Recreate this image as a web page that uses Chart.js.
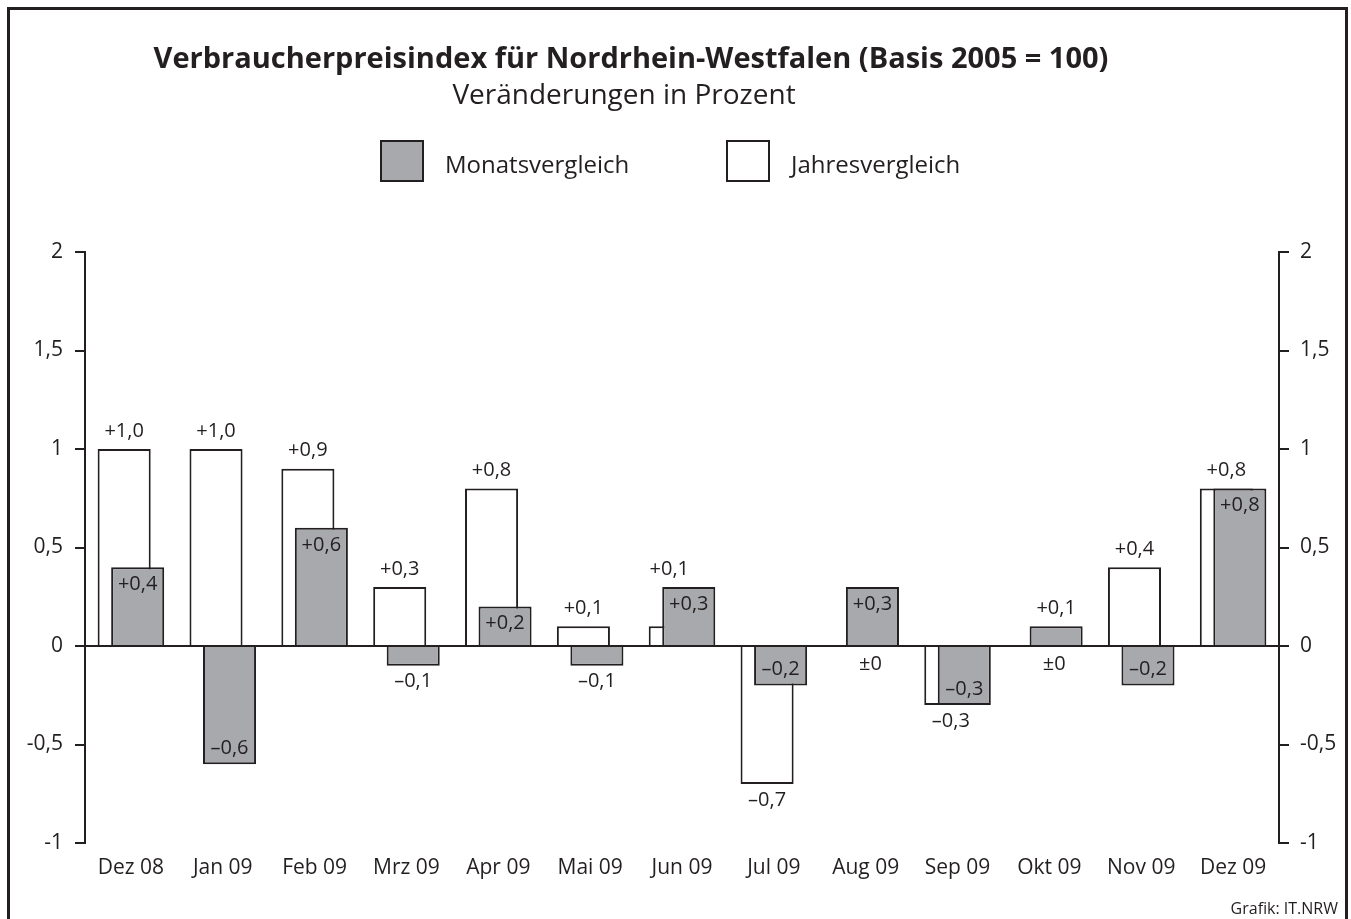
<!DOCTYPE html>
<html lang="de">
<head>
<meta charset="utf-8">
<title>Verbraucherpreisindex NRW</title>
<script src="https://cdn.jsdelivr.net/npm/chart.js@4.4.1/dist/chart.umd.min.js"></script>
<style>
  html, body { margin: 0; padding: 0; background: #fff; }
  canvas { display: block; }
</style>
</head>
<body>
<canvas id="myChart" width="1351" height="919"></canvas>
<script>
'use strict';

const months = ['Dez 08', 'Jan 09', 'Feb 09', 'Mrz 09', 'Apr 09', 'Mai 09', 'Jun 09',
  'Jul 09', 'Aug 09', 'Sep 09', 'Okt 09', 'Nov 09', 'Dez 09'];
const jahresvergleich = [1.0, 1.0, 0.9, 0.3, 0.8, 0.1, 0.1, -0.7, 0, -0.3, 0, 0.4, 0.8];
const monatsvergleich = [0.4, -0.6, 0.6, -0.1, 0.2, -0.1, 0.3, -0.2, 0.3, -0.3, 0.1, -0.2, 0.8];
const yMin = -1;
const yMax = 2;
const yStep = 0.5;

const titleText = 'Verbraucherpreisindex für Nordrhein-Westfalen (Basis 2005 = 100)';
const subtitleText = 'Veränderungen in Prozent';
const creditText = 'Grafik: IT.NRW';

const ink = '#231f20';
const grey = '#a7a9ac';
const family = '\'Open Sans\', sans-serif';

function formatTick(value){
  return String(value).replace('.', ',');
}

function formatValue(v){
  if(v === 0){
    return '±0';
  }
  let txt = Math.abs(v).toFixed(1).replace('.', ',');
  return (v > 0 ? '+' : '–') + txt;
}

// frame, title, legend and credit line
const chrome = {
  id: 'chrome',
  afterDraw(chart){
    const ctx = chart.ctx;
    ctx.save();
    ctx.strokeStyle = ink;
    ctx.lineWidth = 3;
    ctx.beginPath();
    ctx.moveTo(8.5, chart.height);
    ctx.lineTo(8.5, 8.5);
    ctx.lineTo(chart.width - 4.5, 8.5);
    ctx.lineTo(chart.width - 4.5, chart.height);
    ctx.stroke();

    ctx.fillStyle = ink;
    ctx.textAlign = 'center';
    ctx.textBaseline = 'middle';
    ctx.font = 'bold 29px ' + family;
    ctx.fillText(titleText, 631, 60);
    ctx.font = '28px ' + family;
    ctx.fillText(subtitleText, 624, 96);

    // legend: Monatsvergleich first, then Jahresvergleich
    const items = [
      {ds: chart.data.datasets[1], x: 381},
      {ds: chart.data.datasets[0], x: 727}
    ];
    ctx.lineWidth = 2;
    ctx.textAlign = 'left';
    ctx.font = '24px ' + family;
    items.forEach(function(item){
      ctx.fillStyle = item.ds.backgroundColor;
      ctx.fillRect(item.x, 141, 42, 40);
      ctx.strokeRect(item.x, 141, 42, 40);
      ctx.fillStyle = ink;
      ctx.fillText(item.ds.label, item.x + 64, 166);
    });

    ctx.textAlign = 'right';
    ctx.font = '16px ' + family;
    ctx.fillText(creditText, 1338, 909);
    ctx.restore();
  }
};

// grey bars sit on top of the white ones, then the value labels
const barsAndLabels = {
  id: 'barsAndLabels',
  beforeDatasetDraw(chart, args){
    if(args.index === 1){
      return false;
    }
  },
  afterDatasetsDraw(chart){
    const ctx = chart.ctx;
    const white = chart.getDatasetMeta(0);
    const gray = chart.getDatasetMeta(1);
    gray.controller.draw();

    ctx.save();
    ctx.fillStyle = ink;
    ctx.font = '20px ' + family;
    ctx.textAlign = 'center';
    ctx.textBaseline = 'middle';

    for(let i = 0; i < months.length; i++){
      // Jahresvergleich: outside the bar, clear of the grey one
      let bar = white.data[i];
      let other = gray.data[i];
      let v = jahresvergleich[i];
      if(v > 0){
        let top = Math.min(bar.y, other.y);
        let shift = top < bar.y ? -6 : 0;
        ctx.fillText(formatValue(v), bar.x + shift, top - 18);
      } else if(v < 0){
        ctx.fillText(formatValue(v), bar.x, Math.max(bar.y, other.y) + 16);
      } else {
        ctx.fillText(formatValue(v), other.x - 2, bar.base + 18);
      }

      // Monatsvergleich: inside if there is room
      bar = gray.data[i];
      v = monatsvergleich[i];
      if(v >= 0.2){
        ctx.fillText(formatValue(v), bar.x, bar.y + 17);
      } else if(v <= -0.2){
        ctx.fillText(formatValue(v), bar.x, bar.y - 16);
      } else if(v > 0){
        ctx.fillText(formatValue(v), bar.x, bar.y - 18);
      } else if(v < 0){
        ctx.fillText(formatValue(v), bar.x, bar.y + 16);
      } else {
        ctx.fillText(formatValue(v), bar.x - 2, bar.base + 18);
      }
    }
    ctx.restore();
  }
};

const ctx = document.getElementById('myChart');

new Chart(ctx, {
  type: 'bar',
  data: {
    labels: months,
    datasets: [{
      label: 'Jahresvergleich',
      data: jahresvergleich,
      backgroundColor: '#ffffff',
      borderColor: ink,
      borderWidth: 2,
      borderSkipped: 'start'
    }, {
      label: 'Monatsvergleich',
      data: monatsvergleich,
      backgroundColor: grey,
      borderColor: ink,
      borderWidth: 2,
      borderSkipped: 'start'
    }]
  },
  options: {
    responsive: false,
    devicePixelRatio: 1,
    animation: false,
    categoryPercentage: 0.294,
    barPercentage: 3.93,
    layout: {
      padding: {top: 252}
    },
    plugins: {
      legend: {display: false},
      title: {display: false},
      tooltip: {enabled: false}
    },
    scales: {
      x: {
        grid: {display: false, drawTicks: false},
        border: {display: false},
        ticks: {color: ink, font: {family: family, size: 21}, padding: 12, maxRotation: 0},
        afterFit(scale){ scale.height = 76; }
      },
      y: {
        min: yMin,
        max: yMax,
        ticks: {stepSize: yStep, callback: formatTick, color: ink, font: {family: family, size: 21}, padding: 12},
        grid: {
          color: function(c){ return c.tick && c.tick.value === 0 ? ink : 'rgba(0,0,0,0)'; },
          tickColor: ink,
          tickLength: 10,
          lineWidth: 2
        },
        border: {color: ink, width: 2},
        afterFit(scale){ scale.width = 85; }
      },
      y2: {
        position: 'right',
        min: yMin,
        max: yMax,
        ticks: {stepSize: yStep, callback: formatTick, color: ink, font: {family: family, size: 21}, padding: 11},
        grid: {drawOnChartArea: false, color: ink, tickColor: ink, tickLength: 10, lineWidth: 2},
        border: {color: ink, width: 2},
        afterFit(scale){ scale.width = 72; }
      }
    }
  },
  plugins: [chrome, barsAndLabels]
});
</script>
</body>
</html>
